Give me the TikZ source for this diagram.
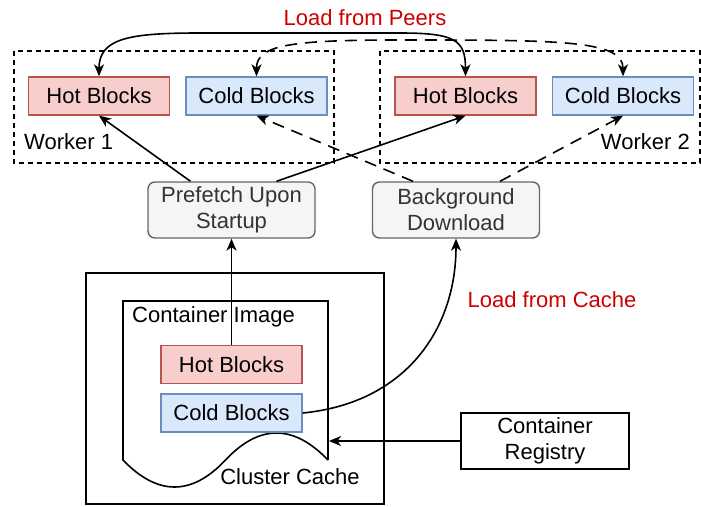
\documentclass[tikz,border=0pt]{standalone}
\usepackage{fontspec}
\setmainfont{Liberation Sans}
\usetikzlibrary{arrows.meta}
\definecolor{hotfill}{HTML}{F8CECC}
\definecolor{hotdraw}{HTML}{B85450}
\definecolor{coldfill}{HTML}{DAE8FC}
\definecolor{colddraw}{HTML}{6C8EBF}
\definecolor{grayfill}{HTML}{F5F5F5}
\definecolor{graydraw}{HTML}{666666}
\definecolor{graytext}{HTML}{333333}
\definecolor{redtext}{HTML}{CC0000}
\begin{document}
\begin{tikzpicture}[x=1pt,y=-1pt,
  >={Stealth[length=12pt,width=10pt,inset=3.5pt]},
  every node/.style={font=\fontsize{22}{26}\selectfont, inner sep=0pt},
  block/.style={draw, line width=1.4pt, minimum width=141pt, minimum height=38pt},
  hot/.style={block, fill=hotfill, draw=hotdraw},
  cold/.style={block, fill=coldfill, draw=colddraw},
  proc/.style={draw=graydraw, fill=grayfill, text=graytext, line width=1.4pt, rounded corners=7pt, minimum width=167pt, minimum height=56pt, align=center},
  worker/.style={draw, dash pattern=on 5pt off 4pt, line width=1.4pt},
  conn/.style={line width=1.6pt, ->},
  dconn/.style={conn, dash pattern=on 12pt off 8pt},
  lbl/.style={text=redtext}
]
\useasboundingbox (0,0) rectangle (701,506);

% workers
\draw[worker] (14,51) rectangle (334,163);
\draw[worker] (380,51) rectangle (700,163);
\node[anchor=west] (w1) at (24,142) {Worker 1};
\node[anchor=east] (w2) at (690,142) {Worker 2};

\node[hot] (hot1) at (99,96) {Hot Blocks};
\node[cold] (cold1) at (256.5,96) {Cold Blocks};
\node[hot] (hot2) at (465.5,96) {Hot Blocks};
\node[cold] (cold2) at (623,96) {Cold Blocks};

% process nodes
\node[proc] (pre) at (231.5,210) {Prefetch Upon\\Startup};
\node[proc] (bg) at (456,210) {Background\\Download};

% cluster cache
\draw[line width=1.6pt] (86,273) rectangle (384,504);
\draw[line width=1.6pt] (328,460) -- (328,301) -- (123,301) -- (123,460)
  .. controls (157.5,496) and (191.7,496) .. (225.5,460)
  .. controls (259.3,424) and (293.5,424) .. (328,460);
\node[anchor=west] (ci) at (132,317) {Container Image};
\node (cc) at (290,477) {Cluster Cache};
\node[hot] (hotc) at (231.5,364.5) {Hot Blocks};
\node[cold] (coldc) at (231.5,413) {Cold Blocks};
\coordinate (docedge) at (329,441);

% registry
\node[draw, line width=1.6pt, minimum width=168pt, minimum height=56pt, align=center] (reg) at (545,441) {Container\\Registry};

% labels
\node[lbl] (lp) at (365,18) {Load from Peers};
\node[lbl] (lc) at (552,300) {Load from Cache};

% connectors
\draw[conn] (pre.north) ++(-41,0) coordinate (preA) -- (hot1.south);
\draw[conn] (pre.north) ++(45,0) coordinate (preB) -- (hot2.south);
\draw[dconn] (bg.north) ++(-43,0) coordinate (bgA) -- (cold1.south);
\draw[dconn] (bg.north) ++(44,0) coordinate (bgB) -- (cold2.south);
\draw[conn] (hotc.north) -- (pre.south);
\draw[conn] (coldc.east) .. controls (405,403) and (456,330) .. (bg.south);
\draw[conn] (reg.west) -- (docedge);

\draw[conn, <->]
  (hot1.north) .. controls (99,38) and (130,33) .. (200,33) -- (400,33)
  .. controls (455,33) and (465.5,40) .. (hot2.north);
\draw[dconn, <->]
  (cold1.north) .. controls (256.5,45) and (290,40) .. (400,40)
  .. controls (560,40) and (623,40) .. (cold2.north);
\end{tikzpicture}
\end{document}
